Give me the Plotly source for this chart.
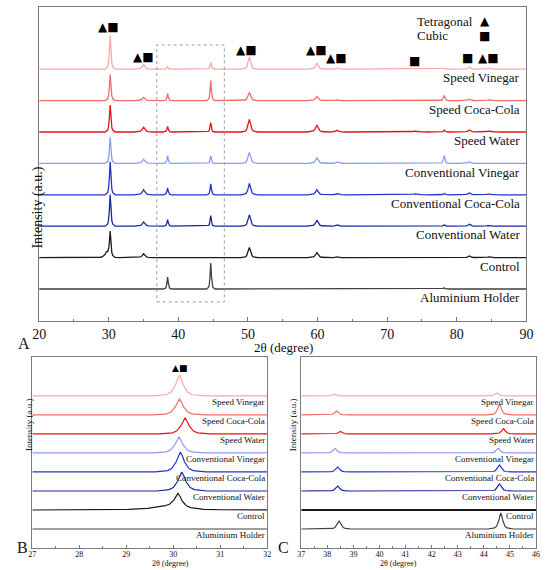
import numpy as np
import plotly.graph_objects as go

# samples, top to bottom (stacked offsets 7..0)
SAMPLES = ["Speed Vinegar", "Speed Coca-Cola", "Speed Water", "Conventional Vinegar",
           "Conventional Coca-Cola", "Conventional Water", "Control", "Aluminium Holder"]
OFFSETS = [7, 6, 5, 4, 3, 2, 1, 0]
COLORS = ["#f7a9a9", "#f36a6a", "#e31414", "#8c9bf2", "#2233cc", "#17279f", "#1a1a1a", "#404040"]

# panel A: full scan 20-90 deg, peak positions shared by all samples
A_CENTERS = [30.2, 35.0, 38.45, 44.65, 50.2, 59.9, 62.8, 74.0, 78.2, 81.8, 84.6]
A_HEIGHTS = {
    "Speed Vinegar":          [1.08, 0.15, 0.08, 0.22, 0.38, 0.19, 0.05, 0.02, 0.03, 0.06, 0.03],
    "Speed Coca-Cola":        [0.83, 0.10, 0.22, 0.64, 0.26, 0.13, 0.03, 0.02, 0.16, 0.05, 0.02],
    "Speed Water":            [0.86, 0.15, 0.18, 0.30, 0.40, 0.22, 0.06, 0.03, 0.06, 0.06, 0.03],
    "Conventional Vinegar":   [0.83, 0.13, 0.25, 0.25, 0.35, 0.18, 0.06, 0.02, 0.25, 0.05, 0.02],
    "Conventional Coca-Cola": [1.05, 0.16, 0.22, 0.35, 0.36, 0.16, 0.05, 0.03, 0.05, 0.06, 0.03],
    "Conventional Water":     [1.00, 0.13, 0.21, 0.34, 0.36, 0.19, 0.05, 0.01, 0.05, 0.06, 0.02],
    "Control":                [0.80, 0.12, 0.00, 0.00, 0.32, 0.16, 0.03, 0.01, 0.01, 0.05, 0.02],
    "Aluminium Holder":       [0.00, 0.00, 0.38, 0.83, 0.00, 0.00, 0.00, 0.00, 0.04, 0.00, 0.00],
}
# control has a broad shoulder on the low-angle side of the 30 deg peak
CONTROL_SHOULDER_A = (29.7, 0.16)
CONTROL_SHOULDER_B = (29.85, 0.18)

# panel B: zoom 27-32 deg
B_CENTERS = [30.13, 30.13, 30.25, 30.12, 30.15, 30.18, 30.10, 30.1]
B_HEIGHTS = [1.10, 0.84, 0.84, 0.84, 1.05, 1.00, 0.74, 0.0]

# panel C: zoom 37-46 deg, two peaks
C_CENTERS_1 = [38.27, 38.35, 38.50, 38.30, 38.40, 38.40, 38.4, 38.45]
C_HEIGHTS_1 = [0.10, 0.21, 0.13, 0.24, 0.26, 0.26, 0.0, 0.42]
C_CENTERS_2 = [44.50, 44.60, 44.75, 44.55, 44.60, 44.60, 44.6, 44.65]
C_HEIGHTS_2 = [0.16, 0.58, 0.28, 0.24, 0.37, 0.37, 0.0, 0.84]

# phase markers in panel A: (2theta, stack height, symbols)
MARKERS = [(30.0, 8.34, "▲■"), (35.0, 7.39, "▲■"), (49.8, 7.6, "▲■"), (59.8, 7.6, "▲■"),
           (62.7, 7.36, "▲■"), (73.9, 7.26, "■"), (81.6, 7.36, "■"), (84.5, 7.36, "▲■")]

# peak shape (in half-widths) - style only
PROFILE_T = [-6, -3, -2, -1, -0.5, 0, 0.5, 1, 2, 3, 6]
PROFILE_F = [0, 0.07, 0.18, 0.5, 0.8, 1, 0.8, 0.5, 0.18, 0.07, 0]
A_HW = [0.12, 0.22, 0.1, 0.1, 0.2, 0.22, 0.2, 0.3, 0.12, 0.22, 0.3]

SERIF = "Times New Roman, Liberation Serif, DejaVu Serif, serif"
AXIS_GRAY = "#7a7a7a"


def build_curve(x0, x1, peaks):
    """peaks: list of (center, height, halfwidth). Returns x, y of the stacked trace."""
    xs = [x0, x1]
    for c, h, w in peaks:
        xs += [c + t * w for t in PROFILE_T]
    x = np.array(sorted(set(v for v in xs if x0 <= v <= x1)))
    y = np.zeros_like(x)
    for c, h, w in peaks:
        px = np.array([c + t * w for t in PROFILE_T])
        y += h * np.interp(x, px, PROFILE_F, left=0, right=0)
    return x, y


fig = go.Figure()

for i, name in enumerate(SAMPLES):
    col = COLORS[i]
    off = OFFSETS[i]

    # panel A
    peaks = [(c, h, w) for c, h, w in zip(A_CENTERS, A_HEIGHTS[name], A_HW) if h > 0]
    if name == "Control":
        peaks.append((CONTROL_SHOULDER_A[0], CONTROL_SHOULDER_A[1], 0.3))
    x, y = build_curve(20, 90, peaks)
    fig.add_trace(go.Scatter(x=x, y=y + off, mode="lines", line=dict(color=col, width=1.3),
                             xaxis="x", yaxis="y", showlegend=False, hoverinfo="skip"))

    # panel B
    peaks = [(B_CENTERS[i], B_HEIGHTS[i], 0.09)] if B_HEIGHTS[i] > 0 else []
    if name == "Control":
        peaks.append((CONTROL_SHOULDER_B[0], CONTROL_SHOULDER_B[1], 0.4))
    x, y = build_curve(27, 32, peaks)
    fig.add_trace(go.Scatter(x=x, y=y + off, mode="lines", line=dict(color=col, width=1.2),
                             xaxis="x2", yaxis="y2", showlegend=False, hoverinfo="skip"))

    # panel C
    peaks = [(c, h, 0.08) for c, h in [(C_CENTERS_1[i], C_HEIGHTS_1[i]),
                                       (C_CENTERS_2[i], C_HEIGHTS_2[i])] if h > 0]
    x, y = build_curve(37, 46, peaks)
    fig.add_trace(go.Scatter(x=x, y=y + off, mode="lines",
                             line=dict(color=col, width=2.2 if name == "Control" else 1.2),
                             xaxis="x3", yaxis="y3", showlegend=False, hoverinfo="skip"))

annotations = []
# sample labels
for i, name in enumerate(SAMPLES):
    annotations.append(dict(x=89.4, y=OFFSETS[i] - 0.28, xref="x", yref="y", text=name,
                            showarrow=False, xanchor="right", yanchor="middle",
                            font=dict(family=SERIF, size=13, color="#111")))
    annotations.append(dict(x=31.99, y=OFFSETS[i] - 0.33, xref="x2", yref="y2", text=name,
                            showarrow=False, xanchor="right", yanchor="middle",
                            font=dict(family=SERIF, size=9, color="#111")))
    annotations.append(dict(x=46.0, y=OFFSETS[i] - 0.33, xref="x3", yref="y3", text=name,
                            showarrow=False, xanchor="right", yanchor="middle",
                            font=dict(family=SERIF, size=9, color="#111")))

for xm, ym, sym in MARKERS:
    annotations.append(dict(x=xm, y=ym, xref="x", yref="y", text=sym, showarrow=False,
                            font=dict(family="DejaVu Sans", size=12, color="black")))
annotations.append(dict(x=30.13, y=8.47, xref="x2", yref="y2", text="▲■", showarrow=False,
                        font=dict(family="DejaVu Sans", size=9, color="black")))

# phase legend
annotations += [
    dict(x=74.0, y=8.53, xref="x", yref="y", text="Tetragonal", showarrow=False, xanchor="left",
         font=dict(family=SERIF, size=13, color="#111")),
    dict(x=74.0, y=8.06, xref="x", yref="y", text="Cubic", showarrow=False, xanchor="left",
         font=dict(family=SERIF, size=13, color="#111")),
    dict(x=84.0, y=8.53, xref="x", yref="y", text="▲", showarrow=False,
         font=dict(family="DejaVu Sans", size=12, color="black")),
    dict(x=84.0, y=8.06, xref="x", yref="y", text="■", showarrow=False,
         font=dict(family="DejaVu Sans", size=12, color="black")),
]

# axis titles and panel letters
annotations += [
    dict(x=0.04, y=0.712, xref="paper", yref="paper", text="Intensity (a.u.)", textangle=-90,
         showarrow=False, font=dict(family=SERIF, size=14, color="#111")),
    dict(x=0.515, y=0.391, xref="paper", yref="paper", text="2θ (degree)", showarrow=False,
         yanchor="middle", font=dict(family=SERIF, size=13, color="#111")),
    dict(x=0.027, y=0.205, xref="paper", yref="paper", text="Intensity (a.u.)", textangle=-90,
         showarrow=False, font=dict(family=SERIF, size=9, color="#111")),
    dict(x=0.267, y=0.012, xref="paper", yref="paper", text="2θ (degree)", showarrow=False,
         yanchor="middle", font=dict(family=SERIF, size=8, color="#111")),
    dict(x=0.533, y=0.205, xref="paper", yref="paper", text="Intensity (a.u.)", textangle=-90,
         showarrow=False, font=dict(family=SERIF, size=9, color="#111")),
    dict(x=0.768, y=0.012, xref="paper", yref="paper", text="2θ (degree)", showarrow=False,
         yanchor="middle", font=dict(family=SERIF, size=8, color="#111")),
    dict(x=0.016, y=0.398, xref="paper", yref="paper", text="A", showarrow=False,
         font=dict(family=SERIF, size=16, color="#111")),
    dict(x=0.014, y=0.021, xref="paper", yref="paper", text="B", showarrow=False,
         font=dict(family=SERIF, size=16, color="#111")),
    dict(x=0.516, y=0.021, xref="paper", yref="paper", text="C", showarrow=False,
         font=dict(family=SERIF, size=16, color="#111")),
]


def xaxis_style(domain, rng, dtick, minor, fsize, ticklen, anchor, standoff=0):
    return dict(domain=domain, range=rng, dtick=dtick, tick0=rng[0], anchor=anchor,
                showline=True, linecolor=AXIS_GRAY, linewidth=1, mirror=True,
                ticks="inside", ticklen=ticklen, tickcolor=AXIS_GRAY,
                minor=dict(dtick=minor, ticks="inside", ticklen=ticklen / 2, tickcolor=AXIS_GRAY),
                showgrid=False, zeroline=False, ticklabelstandoff=standoff,
                tickfont=dict(family=SERIF, size=fsize, color="#111"))


def yaxis_style(domain, rng, anchor):
    return dict(domain=domain, range=rng, anchor=anchor, showline=True, linecolor=AXIS_GRAY,
                linewidth=1, mirror=True, showticklabels=False, ticks="", showgrid=False,
                zeroline=False)


fig.update_layout(
    width=550, height=570,
    margin=dict(l=0, r=0, t=0, b=0),
    paper_bgcolor="white", plot_bgcolor="white",
    xaxis=xaxis_style([0.06, 0.969], [20, 90], 10, 5, 14, 4, "y", 0),
    yaxis=yaxis_style([0.4368, 0.9877], [-1.02, 8.98], "x"),
    xaxis2=xaxis_style([0.0473, 0.4855], [27, 32], 1, 0.5, 8, 3, "y2", -2),
    yaxis2=yaxis_style([0.0386, 0.3737], [-1.0, 9.05], "x2"),
    xaxis3=xaxis_style([0.549, 0.987], [37, 46], 1, 0.5, 8, 3, "y3", -2),
    yaxis3=yaxis_style([0.0386, 0.3737], [-1.0, 9.05], "x3"),
    annotations=annotations,
    shapes=[dict(type="rect", xref="x", yref="y", x0=36.9, x1=46.6, y0=-0.41, y1=7.77,
                 line=dict(color="#9a9a9a", width=1, dash="dot"))],
)

# page body has a default 8px margin; drop it so the 550x570 figure fills the window
fig.write_html("out.html", config={"displayModeBar": False},
               post_script="document.body.style.margin = '0';")
